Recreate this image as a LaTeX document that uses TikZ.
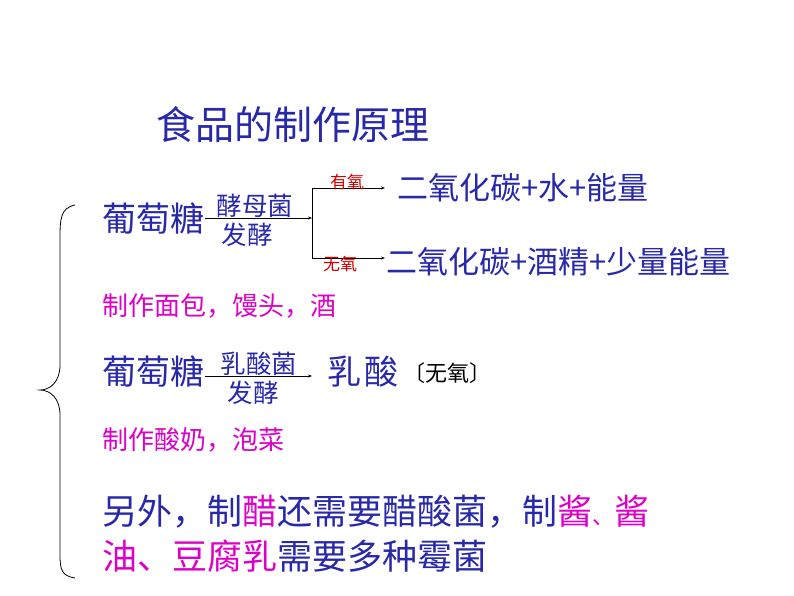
\documentclass[tikz,border=0pt]{standalone}
\usepackage{fontspec}
\usetikzlibrary{arrows.meta}
\setmainfont{Noto Sans CJK SC}
\newfontfamily\cjk{Noto Sans CJK SC}
\definecolor{tblue}{RGB}{40,40,170}
\definecolor{tmag}{RGB}{220,0,200}
\definecolor{tred}{RGB}{210,0,0}
\begin{document}
\begin{tikzpicture}[x=1pt,y=-1pt,
  every node/.style={inner sep=0pt,outer sep=0pt,font=\cjk},
  big/.style={text=tblue,font=\cjk\fontsize{34}{34}\selectfont},
  mid/.style={text=tblue,font=\cjk\fontsize{31}{31}\selectfont},
  sm/.style={text=tblue,font=\cjk\fontsize{25.5}{25.5}\selectfont},
  mag/.style={text=tmag,font=\cjk\fontsize{26}{26}\selectfont},
  cond/.style={text=tred,font=\cjk\fontsize{17}{17}\selectfont},
  conn/.style={draw=black,line width=0.8pt,-{Stealth[length=4pt,width=3pt]}},
  plain/.style={draw=black,line width=0.8pt}]
\useasboundingbox (0,0) rectangle (794,596);
\node[big,font=\cjk\fontsize{39}{39}\selectfont] (title) at (293,125) {食品的制作原理};
% yeast
\node[big,anchor=west] (g1) at (102,219) {葡萄糖};
\node[sm] (y1) at (255,206) {酵母菌};
\node[sm] (y2) at (247,235) {发酵};
\coordinate (s1) at (205,218);
\coordinate (b1) at (312,218);
\coordinate (bt) at (312,188);
\coordinate (bb) at (312,258);
\coordinate (et) at (385,188);
\coordinate (eb) at (385,258);
\draw[conn] (s1) -- (b1);
\draw[plain] (bt) -- (bb);
\draw[conn] (bt) -- (et);
\draw[conn] (bb) -- (eb);
\node[cond] (c1) at (347,182) {有氧};
\node[cond] (c2) at (340,264) {无氧};
\node[mid,anchor=west] (p1) at (397,188) {二氧化碳+水+能量};
\node[mid,anchor=west] (p2) at (386,262) {二氧化碳+酒精+少量能量};
\node[mag,anchor=west] (u1) at (102,306) {制作面包，馒头，酒};
% lactic
\node[big,anchor=west] (g2) at (102,372) {葡萄糖};
\node[sm] (l1) at (259,364) {乳酸菌};
\node[sm] (l2) at (253,393) {发酵};
\coordinate (s2) at (205,376);
\coordinate (e2) at (312,376);
\draw[conn] (s2) -- (e2);
\node[big,anchor=west] (la) at (327,372) {乳\hspace{4pt}酸};
\node[font=\cjk\fontsize{22}{22}\selectfont,anchor=west] (wy) at (403,373) {〔无氧〕};
\node[mag,anchor=west] (u2) at (102,440) {制作酸奶，泡菜};
% other
\node[big,anchor=west,font=\cjk\fontsize{35}{35}\selectfont] (o1) at (102,512) {另外，制\textcolor{tmag}{醋}还需要醋酸菌，制\textcolor{tmag}{酱{\fontsize{22}{22}\selectfont 、}酱}};
\node[big,anchor=west,font=\cjk\fontsize{35}{35}\selectfont] (o2) at (102,556) {\textcolor{tmag}{油、豆腐乳}需要多种霉菌};
% brace
\draw[line width=0.8pt] (75,205) .. controls (60,208) and (60,220) .. (60,240) -- (60,365)
  .. controls (60,382) and (50,390) .. (40,390) .. controls (50,390) and (60,398) .. (60,415)
  -- (60,555) .. controls (60,570) and (62,576) .. (75,578);
\end{tikzpicture}
\end{document}
